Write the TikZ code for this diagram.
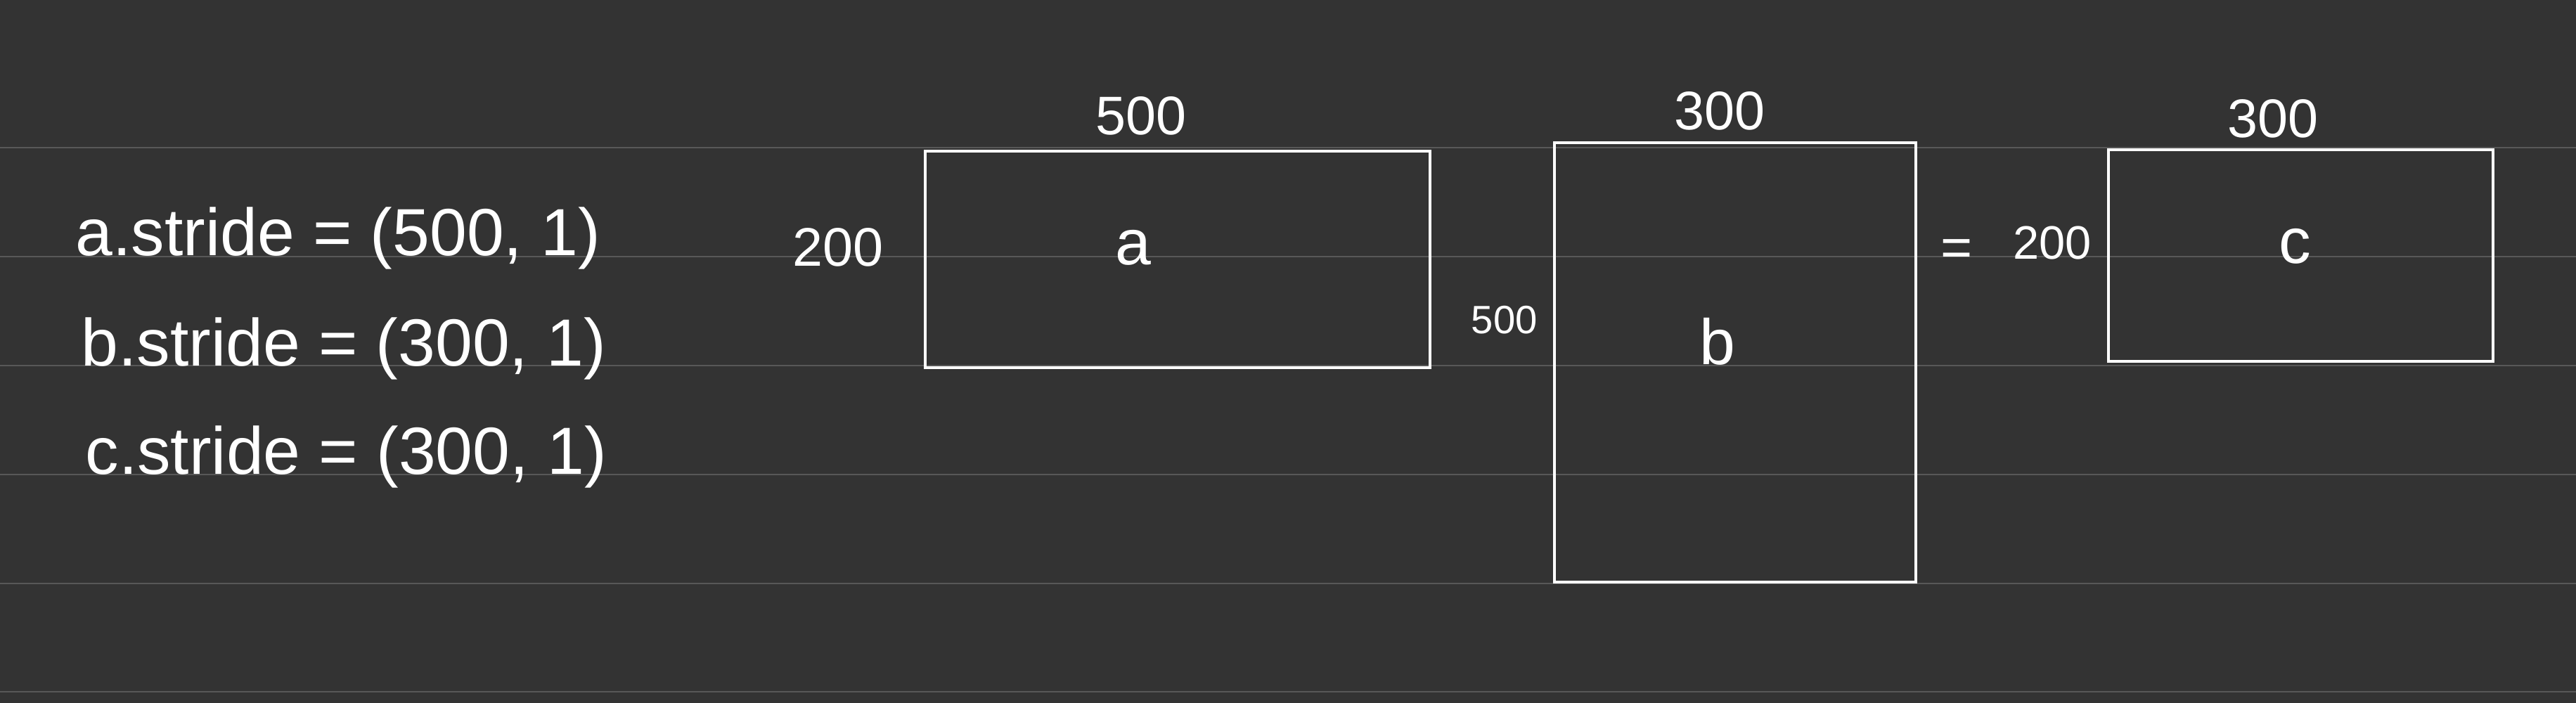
\documentclass[tikz,border=0pt]{standalone}
\usepackage{fontspec}
\setmainfont{Liberation Sans}
\usetikzlibrary{positioning}

\definecolor{board}{RGB}{51,51,51}
\definecolor{ruling}{RGB}{88,88,88}

\tikzset{
  tensor/.style={draw=white, line width=1pt, inner sep=0pt},
  dimlabel/.style={text=white, inner sep=0pt, font=\fontsize{22}{24}\selectfont},
  letter/.style={text=white, inner sep=0pt, font=\fontsize{26}{28}\selectfont},
  stridetext/.style={text=white, inner sep=0pt, anchor=base west, font=\fontsize{27}{30}\selectfont}
}

\begin{document}
\begin{tikzpicture}[node distance=0.2cm, auto]
\fill[board] (0,0) rectangle (36.64,-10);
\useasboundingbox (0,0) rectangle (36.64,-10);
% ruled paper
\foreach \y in {2.10,3.65,5.20,6.75,8.30,9.84}
  \draw[ruling, line width=0.6pt] (0,-\y) -- (36.64,-\y);

% strides
\node (sa) [stridetext] at (1.07,-3.64) {a.stride = (500, 1)};
\node (sb) [stridetext] at (1.15,-5.21) {b.stride = (300, 1)};
\node (sc) [stridetext] at (1.21,-6.75) {c.stride = (300, 1)};

% matrices
\node (boxa) [tensor, minimum width=7.18cm, minimum height=3.08cm] at (16.75,-3.69) {};
\node (boxb) [tensor, minimum width=5.14cm, minimum height=6.25cm] at (24.68,-5.155) {};
\node (boxc) [tensor, minimum width=5.47cm, minimum height=3.01cm] at (32.725,-3.635) {};

\node (na) [letter] at ([xshift=-0.63cm, yshift=0.17cm]boxa.center) {a};
\node (nb) [letter] at ([xshift=-0.25cm, yshift=0.30cm]boxb.center) {b};
\node (nc) [letter] at ([xshift=-0.08cm, yshift=0.13cm]boxc.center) {c};

% shapes
\node (wa) [dimlabel, above=0.2cm of boxa, xshift=-0.52cm] {500};
\node (ha) [dimlabel, left=0.57cm of boxa, yshift=0.17cm] {200};
\node (wb) [dimlabel, above=0.15cm of boxb, xshift=-0.22cm] {300};
\node (hb) [dimlabel, font=\fontsize{16}{18}\selectfont, left=0.22cm of boxb, yshift=0.6cm] {500};
\node (wc) [dimlabel, above=0.14cm of boxc, xshift=-0.4cm] {300};
\node (hc) [dimlabel, font=\fontsize{19}{21}\selectfont, left=0.22cm of boxc, yshift=0.18cm] {200};
\node (eq) [dimlabel, left=0.56cm of hc, yshift=-0.14cm] {=};
\end{tikzpicture}
\end{document}
